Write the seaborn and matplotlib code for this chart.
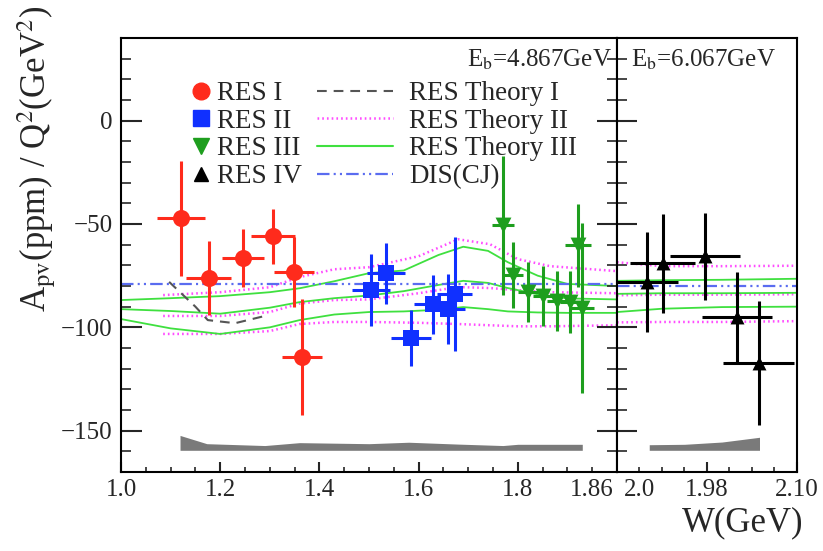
"""
plot.py - parity-violating asymmetry A_pv/Q^2 vs W, two beam energies.
Writes out.png (823x551).
"""

import matplotlib
matplotlib.use("Agg")  # headless
import matplotlib.pyplot as plt
from matplotlib.lines import Line2D
import seaborn as sns

# ---------- data points (W, A_pv/Q^2, half-widths) ----------
res1_w = [1.121, 1.177, 1.246, 1.306, 1.349, 1.365]
res1_a = [-47.3, -76.2, -66.6, -56.0, -73.3, -114.3]
res1_dw = [0.049, 0.045, 0.043, 0.044, 0.040, 0.040]
res1_da = [27.7, 18.0, 14.0, 13.3, 17.0, 28.0]

res2_w = [1.504, 1.534, 1.585, 1.629, 1.660, 1.673]
res2_a = [-82.0, -73.8, -105.2, -88.8, -91.2, -83.9]
res2_dw = [0.038, 0.038, 0.040, 0.038, 0.034, 0.035]
res2_da = [17.4, 14.7, 13.5, 14.2, 17.0, 27.7]

res3_w = [1.770, 1.790, 1.821, 1.851, 1.879, 1.905, 1.921, 1.929]
res3_a = [-50.7, -74.8, -83.0, -84.9, -87.3, -87.8, -60.3, -90.7]
res3_dw = [0.023, 0.020, 0.020, 0.020, 0.020, 0.020, 0.026, 0.024]
res3_da = [33.8, 16.0, 14.5, 14.5, 14.5, 15.0, 20.0, 41.0]

# second beam energy (right panel)
res4_w = [1.900, 1.921, 1.977, 2.020, 2.049]
res4_a = [-78.1, -69.0, -65.6, -95.0, -117.2]
res4_dw = [0.041, 0.043, 0.047, 0.047, 0.047]
res4_da = [24.0, 24.0, 21.0, 21.7, 30.0]

# ---------- theory curves, E_b = 4.867 GeV ----------
th1_w = [1.097, 1.15, 1.175, 1.23, 1.29]
th1_a = [-78.0, -90.0, -96.5, -98.0, -94.5]

th2_w = [1.085, 1.2, 1.3, 1.36, 1.43, 1.5, 1.6, 1.68, 1.744, 1.8, 1.865, 2.0]
th2_hi = [-84.4, -83.0, -80.6, -75.7, -71.9, -70.9, -65.6, -57.4, -59.8, -67.0, -70.4, -72.8]
th2_mid = [-94.5, -94.5, -92.6, -88.5, -86.8, -86.5, -83.5, -80.5, -81.0, -82.0, -83.0, -83.5]
th2_lo = [-103.2, -103.2, -101.8, -98.4, -97.4, -97.4, -97.8, -98.4, -99.0, -99.5, -99.5, -99.0]

th3_w = [1.0, 1.1, 1.2, 1.3, 1.36, 1.43, 1.5, 1.57, 1.64, 1.69, 1.74, 1.78, 1.84, 1.9, 2.0]
th3_hi = [-86.8, -85.9, -84.9, -83.0, -81.1, -77.7, -73.8, -72.5, -65.0, -61.0, -63.0, -68.5, -75.0, -79.0, -80.0]
th3_mid = [-91.2, -92.1, -93.4, -90.5, -87.8, -85.9, -84.6, -82.5, -79.5, -77.5, -78.5, -81.0, -84.0, -86.0, -86.5]
th3_lo = [-96.0, -100.5, -103.2, -100.0, -96.5, -93.8, -92.6, -92.3, -91.5, -90.2, -91.2, -92.3, -92.8, -93.0, -93.0]

dis_w = [1.0, 2.0]
dis_a = [-79.0, -79.0]

# ---------- theory curves, E_b = 6.067 GeV ----------
r_w = [1.86, 1.92, 2.0, 2.10]
r_th2_hi = [-68.5, -70.4, -70.4, -70.2]
r_th2_mid = [-84.5, -84.2, -84.2, -84.0]
r_th2_lo = [-97.6, -97.4, -97.4, -97.0]
r_th3_hi = [-77.5, -77.2, -77.0, -76.5]
r_th3_mid = [-83.8, -83.5, -83.5, -83.3]
r_th3_lo = [-92.6, -91.0, -90.2, -90.0]
r_dis_w = [1.86, 2.10]
r_dis_a = [-80.0, -80.0]

# ---------- systematic error bands ----------
sys_l_w = [1.119, 1.173, 1.29, 1.36, 1.5, 1.58, 1.68, 1.77, 1.8, 1.93]
sys_l_top = [-152.3, -156.3, -157.2, -155.8, -156.3, -155.6, -156.5, -157.2, -156.6, -156.6]
sys_r_w = [1.903, 1.95, 2.0, 2.05]
sys_r_top = [-156.8, -156.6, -155.5, -153.2]
SYS_BOTTOM = -159.5

# ---------- tick labels ----------
left_major = [1.0, 1.2, 1.4, 1.6, 1.8]
left_major_lab = ["1.0", "1.2", "1.4", "1.6", "1.8"]
right_major = [1.98, 2.10]
right_major_lab = ["1.98", "2.10"]
y_major = [-150, -100, -50, 0]
y_major_lab = ["\u2212150", "\u2212100", "\u221250", "0"]

RED, BLUE, GREEN, BLACK = "#ff2b1c", "#1030ff", "#1e9e1e", "#000000"
TH_GREEN, TH_MAG, TH_GRAY, TH_BLUE = "#3fe03f", "#ff4cff", "#555555", "#5a6cf0"

sns.set_theme(style="ticks")
plt.rcParams["font.family"] = ["Liberation Serif", "DejaVu Serif"]
plt.rcParams["mathtext.fontset"] = "stix"
plt.rcParams["lines.scale_dashes"] = False
plt.rcParams["axes.linewidth"] = 1.5

fig = plt.figure(figsize=(8.23, 5.51), dpi=100)
W, H = 823, 551
bot, top = 1 - 472 / H, 1 - 38 / H
axl = fig.add_axes([121 / W, bot, (617 - 121) / W, top - bot])
axr = fig.add_axes([617 / W, bot, (797 - 617) / W, top - bot], sharey=axl)

DOT = (0, (1.2, 2.2))
DASH = (0, (7, 5))
DASHDOT = (0, (9, 3, 1.5, 3, 1.5, 3))


def line(ax, x, y, color, ls, lw=1.4):
    sns.lineplot(x=x, y=y, ax=ax, color=color, linestyle=ls, lw=lw,
                 sort=False, estimator=None, zorder=2)


# curves, left panel
for yy in (th2_hi, th2_mid, th2_lo):
    line(axl, th2_w, yy, TH_MAG, DOT, 1.8)
for yy in (th3_hi, th3_mid, th3_lo):
    line(axl, th3_w, yy, TH_GREEN, "-", 1.3)
line(axl, th1_w, th1_a, TH_GRAY, DASH, 1.5)
line(axl, dis_w, dis_a, TH_BLUE, DASHDOT, 1.6)

# curves, right panel
for yy in (r_th2_hi, r_th2_mid, r_th2_lo):
    line(axr, r_w, yy, TH_MAG, DOT, 1.8)
for yy in (r_th3_hi, r_th3_mid, r_th3_lo):
    line(axr, r_w, yy, TH_GREEN, "-", 1.3)
line(axr, r_dis_w, r_dis_a, TH_BLUE, DASHDOT, 1.6)

# systematic bands
axl.fill_between(sys_l_w, SYS_BOTTOM, sys_l_top, color="#7a7a7a", lw=0, zorder=2)
axr.fill_between(sys_r_w, SYS_BOTTOM, sys_r_top, color="#7a7a7a", lw=0, zorder=2)

# data points
sets = [
    (axl, res1_w, res1_a, res1_dw, res1_da, RED, "o", 150),
    (axl, res2_w, res2_a, res2_dw, res2_da, BLUE, "s", 130),
    (axl, res3_w, res3_a, res3_dw, res3_da, GREEN, "v", 130),
    (axr, res4_w, res4_a, res4_dw, res4_da, BLACK, "^", 100),
]
for ax, x, y, dx, dy, c, m, s in sets:
    ax.errorbar(x, y, xerr=dx, yerr=dy, fmt="none", ecolor=c, elinewidth=2.2,
                capsize=0, zorder=3)
    sns.scatterplot(x=x, y=y, ax=ax, color=c, marker=m, s=s, linewidth=0,
                    zorder=4, legend=False)

# axes ranges
axl.set_xlim(1.0, 2.0)
axr.set_xlim(1.86, 2.10)
axl.set_ylim(-170, 40)

# y ticks (left axis)
axl.set_yticks(y_major, labels=y_major_lab)
axl.set_yticks(list(range(-160, 40, 10)), minor=True)
axl.tick_params(axis="y", which="major", direction="in", length=15, width=1.5,
                labelsize=18, pad=6, right=False)
axl.tick_params(axis="y", which="minor", direction="in", length=7.5, width=1.2,
                right=False)

# divider ticks (right panel left spine, both sides)
axr.tick_params(axis="y", which="major", direction="inout", length=29, width=1.5,
                labelleft=False, right=False)
axr.tick_params(axis="y", which="minor", direction="inout", length=14, width=1.2,
                right=False)

# x ticks
axl.set_xticks(left_major, labels=left_major_lab)
axl.set_xticks([1.05, 1.1, 1.15, 1.25, 1.3, 1.35, 1.45, 1.5, 1.55, 1.65, 1.7,
                1.75, 1.85, 1.9, 1.95], labels=[""] * 14 + ["1.86"], minor=True)
axr.set_xticks(right_major, labels=right_major_lab)
axr.set_xticks([1.89, 1.92, 1.95, 2.01, 2.04, 2.07],
               labels=["2.0", "", "", "", "", ""], minor=True)
for ax in (axl, axr):
    ax.tick_params(axis="x", which="major", direction="in", length=7, width=1.5,
                   labelsize=18, pad=5, top=False)
    ax.tick_params(axis="x", which="minor", direction="in", length=3.5, width=1.2,
                   labelsize=18, pad=5, top=False)
    for sp in ax.spines.values():
        sp.set_visible(True)
        sp.set_linewidth(1.5)
        sp.set_color("black")
    ax.set_xlabel("")
    ax.set_ylabel("")

# beam energy labels
axl.text(0.99, 0.95, r"E$_{\rm b}$=4.867GeV", transform=axl.transAxes,
         ha="right", va="center", fontsize=18)
axr.text(0.08, 0.95, r"E$_{\rm b}$=6.067GeV", transform=axr.transAxes,
         ha="left", va="center", fontsize=18)

# axis titles
fig.text(37 / W, 1 - 6 / H, r"A$_{\rm pv}$(ppm) / Q$^{2}$(GeV$^{2}$)",
         rotation=90, ha="center", va="top", fontsize=25)
fig.text(803 / W, 1 - 523 / H, "W(GeV)", ha="right", va="center", fontsize=25)

# legends
mk = [
    Line2D([], [], marker="o", color=RED, ls="none", ms=12),
    Line2D([], [], marker="s", color=BLUE, ls="none", ms=11),
    Line2D([], [], marker="v", color=GREEN, ls="none", ms=11),
    Line2D([], [], marker="^", color=BLACK, ls="none", ms=10),
]
LEG_TOP = (472 - 81) / 434
leg1 = axl.legend(mk, ["RES I", "RES II", "RES III", "RES IV"], loc="upper left",
                  bbox_to_anchor=((189 - 121) / 496, LEG_TOP),
                  frameon=False, fontsize=19.5, handlelength=0.85, handletextpad=0.2,
                  labelspacing=0.1, borderpad=0, borderaxespad=0)
axl.add_artist(leg1)
ln = [
    Line2D([], [], color=TH_GRAY, ls=DASH, lw=1.5),
    Line2D([], [], color=TH_MAG, ls=DOT, lw=1.8),
    Line2D([], [], color=TH_GREEN, ls="-", lw=1.5),
    Line2D([], [], color=TH_BLUE, ls=DASHDOT, lw=1.6),
]
axl.legend(ln, ["RES Theory I", "RES Theory II", "RES Theory III", "DIS(CJ)"],
           loc="upper left", bbox_to_anchor=((317 - 121) / 496, LEG_TOP),
           frameon=False, fontsize=19.5, handlelength=2.8, handletextpad=0.6,
           labelspacing=0.1, borderpad=0, borderaxespad=0)

fig.savefig("out.png", dpi=100)
